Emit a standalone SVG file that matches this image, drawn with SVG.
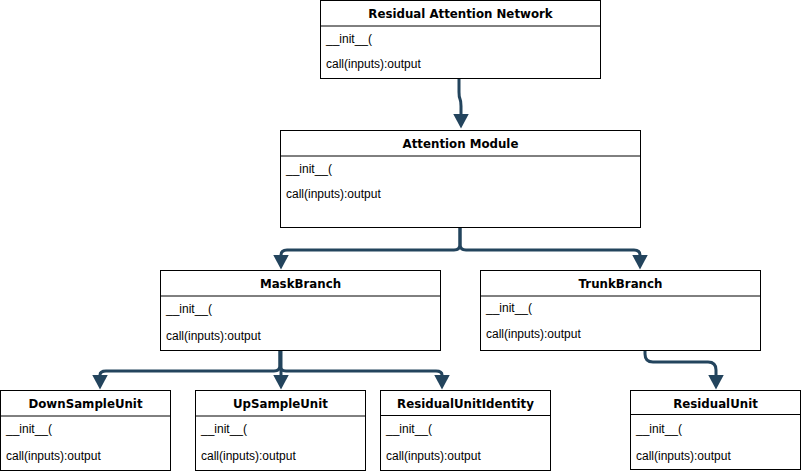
<svg xmlns="http://www.w3.org/2000/svg" width="801" height="474" viewBox="0 0 801 474">
<style>
.box{fill:#fff;stroke:#000;stroke-width:1}
.sep{stroke:#000;stroke-width:1}
.hd{font-family:"DejaVu Sans",Verdana,sans-serif;font-weight:bold;font-size:11.8px;text-anchor:middle;fill:#000}
.it{font-family:"Liberation Sans",Arial,sans-serif;font-size:12px;fill:#000}
.cn{fill:none;stroke:#23445D;stroke-width:3;stroke-linejoin:round}
</style>
<defs>
<marker id="ah" markerUnits="userSpaceOnUse" viewBox="0 0 15 16" refX="0.5" refY="8" markerWidth="15" markerHeight="16" orient="auto">
<path d="M0,0 L15,8 L0,16 Z" fill="#23445D"/>
</marker>
</defs>
<g id="connectors">
<path class="cn" d="M459,78 L459,92 Q459,97 460,99 Q461,101 461,106 L461,114" marker-end="url(#ah)"/>
<path class="cn" d="M460,220 L460,244 Q460,250 454,250 L287,250 Q281,250 281,255" marker-end="url(#ah)"/>
<path class="cn" d="M460,220 L460,244 Q460,250 466,250 L634,250 Q640,250 640,255" marker-end="url(#ah)"/>
<path class="cn" d="M280,350 L280,365 Q280,371 274,371 L106,371 Q100,371 100,375" marker-end="url(#ah)"/>
<path class="cn" d="M281,350 L281,375" marker-end="url(#ah)"/>
<path class="cn" d="M280,350 L280,365 Q280,371 286,371 L436,371 Q442,371 442,375" marker-end="url(#ah)"/>
<path class="cn" d="M645,350 L645,354 Q645,362 653,362 L708,362 Q716,362 716,370 L716,375" marker-end="url(#ah)"/>
</g>
<g id="residual-attention-network">
<rect class="box" x="320.5" y="0.5" width="280" height="78"/>
<line class="sep" x1="320.5" y1="26" x2="600.5" y2="26"/>
<text class="hd" x="460.5" y="17.5">Residual Attention Network</text>
<text class="it" x="326" y="42.5">__init__(</text>
<text class="it" x="326" y="68">call(inputs):output</text>
</g>
<g id="attention-module">
<rect class="box" x="280.5" y="130.5" width="360" height="97"/>
<line class="sep" x1="280.5" y1="156" x2="640.5" y2="156"/>
<text class="hd" x="460.5" y="147.5">Attention Module</text>
<text class="it" x="286" y="173">__init__(</text>
<text class="it" x="286" y="198">call(inputs):output</text>
</g>
<g id="mask-branch">
<rect class="box" x="160.5" y="270.5" width="280" height="80"/>
<line class="sep" x1="160.5" y1="296" x2="440.5" y2="296"/>
<text class="hd" x="300.5" y="288">MaskBranch</text>
<text class="it" x="166" y="313">__init__(</text>
<text class="it" x="166" y="339.5">call(inputs):output</text>
</g>
<g id="trunk-branch">
<rect class="box" x="480.5" y="270.5" width="280" height="80"/>
<line class="sep" x1="480.5" y1="296" x2="760.5" y2="296"/>
<text class="hd" x="620.5" y="288">TrunkBranch</text>
<text class="it" x="486" y="312">__init__(</text>
<text class="it" x="486" y="337.5">call(inputs):output</text>
</g>
<g id="down-sample-unit">
<rect class="box" x="0.5" y="390.5" width="170" height="80"/>
<line class="sep" x1="0.5" y1="416" x2="170.5" y2="416"/>
<text class="hd" x="85.5" y="408">DownSampleUnit</text>
<text class="it" x="6" y="432.5">__init__(</text>
<text class="it" x="6" y="459.5">call(inputs):output</text>
</g>
<g id="up-sample-unit">
<rect class="box" x="195.5" y="390.5" width="170" height="80"/>
<line class="sep" x1="195.5" y1="416" x2="365.5" y2="416"/>
<text class="hd" x="280.5" y="408">UpSampleUnit</text>
<text class="it" x="201" y="432.5">__init__(</text>
<text class="it" x="201" y="459.5">call(inputs):output</text>
</g>
<g id="residual-unit-identity">
<rect class="box" x="380.5" y="390.5" width="170" height="80"/>
<line class="sep" x1="380.5" y1="415.5" x2="550.5" y2="415.5"/>
<text class="hd" x="465.5" y="408">ResidualUnitIdentity</text>
<text class="it" x="386" y="432.5">__init__(</text>
<text class="it" x="386" y="459.5">call(inputs):output</text>
</g>
<g id="residual-unit">
<rect class="box" x="630.5" y="390.5" width="170" height="79"/>
<line class="sep" x1="630.5" y1="414.5" x2="800.5" y2="414.5"/>
<text class="hd" x="715.5" y="408">ResidualUnit</text>
<text class="it" x="636" y="432.5">__init__(</text>
<text class="it" x="636" y="459.5">call(inputs):output</text>
</g>
</svg>
